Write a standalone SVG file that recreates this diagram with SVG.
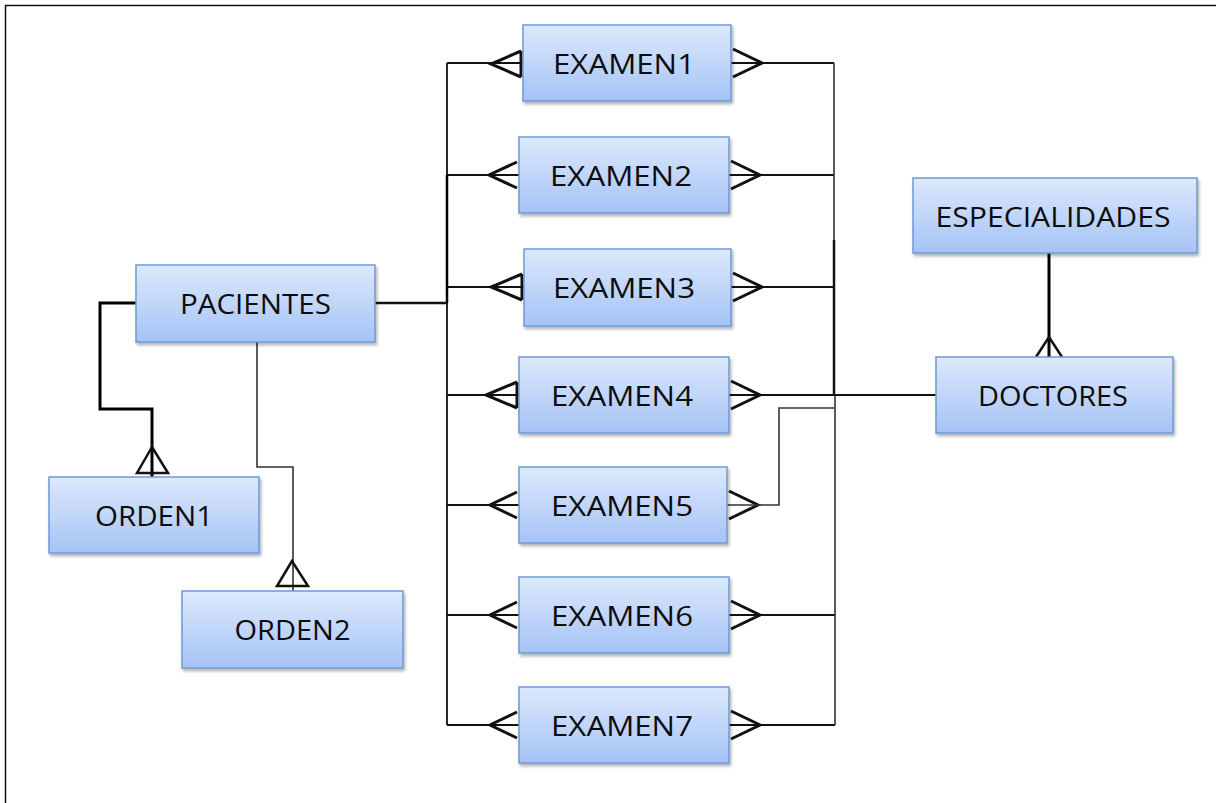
<svg xmlns="http://www.w3.org/2000/svg" width="1216" height="803" viewBox="0 0 1216 803">
<defs>
<linearGradient id="g" x1="0" y1="0" x2="0" y2="1">
<stop offset="0" stop-color="#dde9fc"/>
<stop offset="1" stop-color="#a5c3f6"/>
</linearGradient>
<filter id="sh" x="-10%" y="-10%" width="125%" height="135%">
<feDropShadow dx="1.5" dy="2.5" stdDeviation="1.5" flood-color="#000" flood-opacity="0.3"/>
</filter>
</defs>
<style>
.box{fill:url(#g);stroke:#6f99d6;stroke-width:1.5;filter:url(#sh)}
.t{font-family:"Open Sans","Liberation Sans",sans-serif;font-size:28px;fill:#0d0d0d;text-anchor:middle}
.ln{fill:none;stroke:#111;stroke-width:1.8}
.lg{fill:none;stroke:#333;stroke-width:1.6}
.th{fill:none;stroke:#000;stroke-width:3}
.cf{fill:none;stroke:#111;stroke-width:3;stroke-linejoin:miter}
</style>
<rect width="1216" height="803" fill="#fff"/>
<path d="M5.5,803 V5.5 H1216" fill="none" stroke="#111" stroke-width="1.5"/>

<g id="connectors">
<!-- left bus -->
<path class="ln" d="M447,63 V175"/>
<path class="th" d="M447,175 V303" style="stroke-width:2.5"/>
<path class="ln" d="M447,303 V725"/>
<path class="ln" d="M375,303 H447" style="stroke-width:2.5"/>
<path class="ln" d="M447,63 H523 M447,175 H519 M447,287 H524 M447,395 H519 M447,505 H519 M447,615 H519 M447,725 H519"/>
<!-- left crow's feet -->
<path class="cf" d="M521,51 L491,64 L521,77 M521,51 V77"/>
<path class="cf" d="M517,162 L489,175 L517,188"/>
<path class="cf" d="M522,274 L491,287 L522,300 M522,274 V300"/>
<path class="cf" d="M517,382 L486,395 L517,408 M517,382 V408"/>
<path class="cf" d="M517,492 L490,505 L517,518"/>
<path class="cf" d="M517,602 L490,615 L517,628"/>
<path class="cf" d="M517,712 L490,725 L517,738"/>
<!-- right crow's feet -->
<path class="cf" d="M733,49 L762,63 L733,77"/>
<path class="cf" d="M731,161 L760,175 L731,189"/>
<path class="cf" d="M733,273 L762,287 L733,301"/>
<path class="cf" d="M731,381 L760,395 L731,409"/>
<path class="cf" d="M729,491 L758,505 L729,519"/>
<path class="cf" d="M731,601 L760,615 L731,629"/>
<path class="cf" d="M731,711 L760,725 L731,739"/>
<!-- right lines -->
<path class="ln" d="M731,63 H834 M729,175 H834 M731,287 H834 M729,615 H835 M729,725 H835"/>
<path class="lg" d="M834,63 V240"/>
<path class="ln" d="M834,240 V395" style="stroke-width:2.5"/>
<path class="lg" d="M835,395 V725"/>
<path class="ln" d="M729,395 H936"/>
<path class="lg" d="M727,505 H779 V408 H834"/>
<!-- ESPECIALIDADES - DOCTORES -->
<path class="th" d="M1049,253 V357"/>
<path class="cf" d="M1036,357 L1049,337 L1062,357" style="stroke-width:2.5"/>
<!-- PACIENTES - ORDEN1 -->
<path class="th" d="M136,303 H100 V409 H152 V477"/>
<path class="cf" d="M152,447 L137,473 H168 Z" style="stroke-width:2.5"/>
<!-- PACIENTES - ORDEN2 -->
<path class="lg" d="M257,342 V467 H293 V591"/>
<path class="cf" d="M292,561 L277,586 H308 Z" style="stroke-width:2.5"/>
</g>

<g id="PACIENTES"><rect class="box" x="136" y="265" width="239" height="77"/><text class="t" x="255.5" y="314" textLength="151" lengthAdjust="spacingAndGlyphs">PACIENTES</text></g>
<g id="ORDEN1"><rect class="box" x="49" y="477" width="210" height="76"/><text class="t" x="154" y="526" textLength="118" lengthAdjust="spacingAndGlyphs">ORDEN1</text></g>
<g id="ORDEN2"><rect class="box" x="182" y="591" width="221" height="77"/><text class="t" x="292.5" y="640" textLength="116" lengthAdjust="spacingAndGlyphs">ORDEN2</text></g>
<g id="EXAMEN1"><rect class="box" x="523" y="25" width="208" height="76"/><text class="t" x="624" y="74" textLength="142" lengthAdjust="spacingAndGlyphs">EXAMEN1</text></g>
<g id="EXAMEN2"><rect class="box" x="519" y="137" width="210" height="76"/><text class="t" x="621" y="186" textLength="142" lengthAdjust="spacingAndGlyphs">EXAMEN2</text></g>
<g id="EXAMEN3"><rect class="box" x="524" y="249" width="207" height="77"/><text class="t" x="624" y="298" textLength="142" lengthAdjust="spacingAndGlyphs">EXAMEN3</text></g>
<g id="EXAMEN4"><rect class="box" x="519" y="357" width="210" height="76"/><text class="t" x="622" y="406" textLength="142" lengthAdjust="spacingAndGlyphs">EXAMEN4</text></g>
<g id="EXAMEN5"><rect class="box" x="519" y="467" width="208" height="76"/><text class="t" x="622" y="516" textLength="142" lengthAdjust="spacingAndGlyphs">EXAMEN5</text></g>
<g id="EXAMEN6"><rect class="box" x="519" y="577" width="210" height="76"/><text class="t" x="622" y="626" textLength="142" lengthAdjust="spacingAndGlyphs">EXAMEN6</text></g>
<g id="EXAMEN7"><rect class="box" x="519" y="687" width="210" height="76"/><text class="t" x="622" y="736" textLength="142" lengthAdjust="spacingAndGlyphs">EXAMEN7</text></g>
<g id="ESPECIALIDADES"><rect class="box" x="913" y="178" width="284" height="75"/><text class="t" x="1053" y="227" textLength="235" lengthAdjust="spacingAndGlyphs">ESPECIALIDADES</text></g>
<g id="DOCTORES"><rect class="box" x="936" y="357" width="237" height="76"/><text class="t" x="1053" y="406" textLength="150" lengthAdjust="spacingAndGlyphs">DOCTORES</text></g>
</svg>
